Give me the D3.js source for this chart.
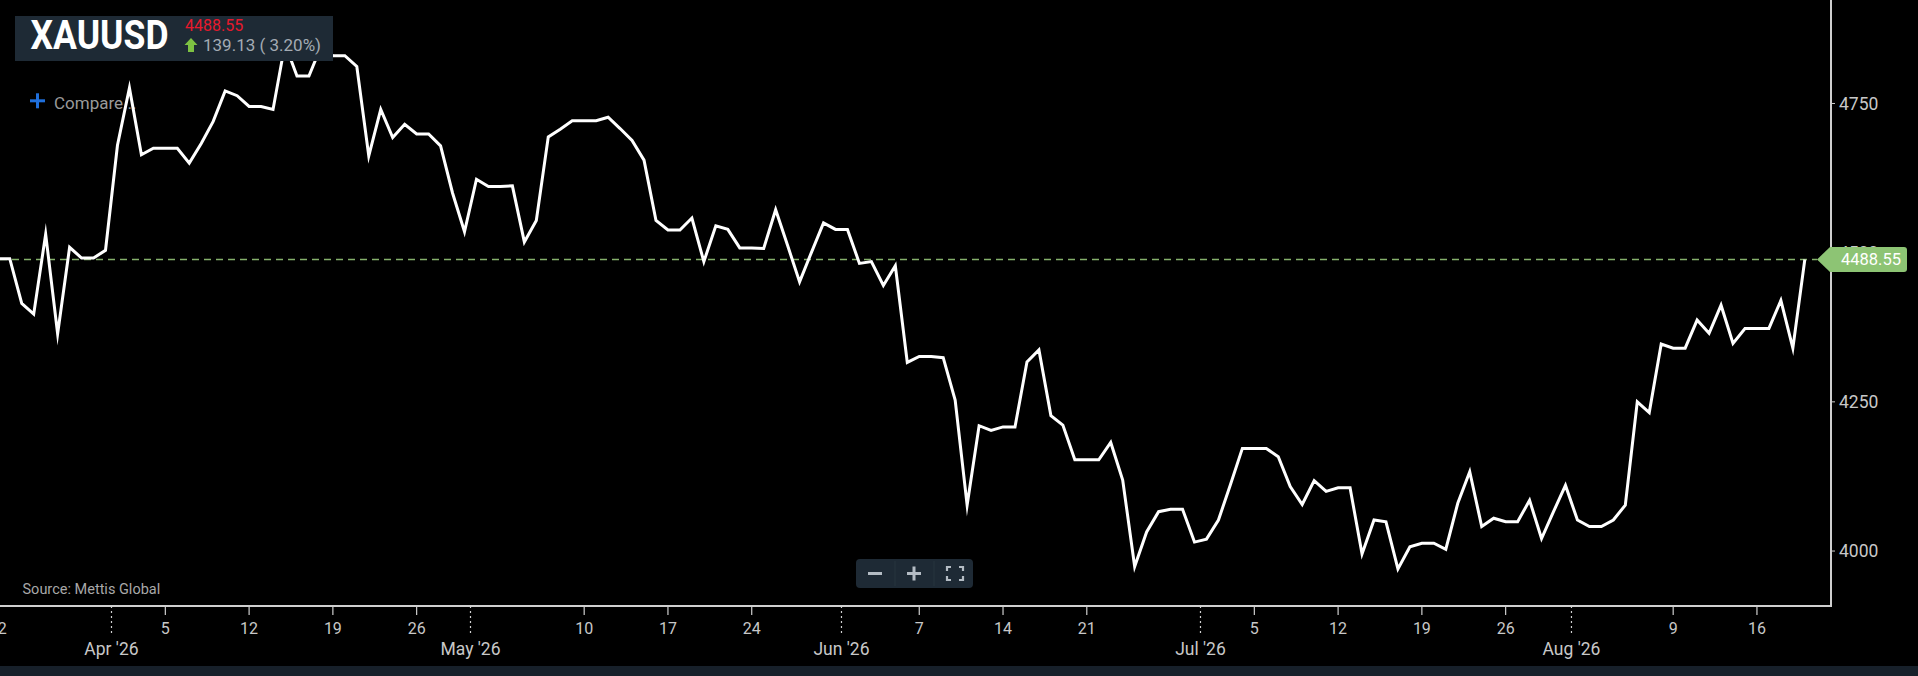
<!DOCTYPE html>
<html>
<head>
<meta charset="utf-8">
<script src="https://cdn.jsdelivr.net/npm/d3@7"></script>
<style>
  html, body { margin: 0; padding: 0; background: #000; }
  svg { display: block; font-family: Roboto, "Noto Sans", sans-serif; }
</style>
</head>
<body>
<div id="chart"></div>
<script>
// daily closes, one per day starting Sun 22 Mar 2026
var startDate = Date.UTC(2026, 2, 22, 12);
var closes = [
  4490, 4490, 4415, 4397, 4531, 4364, 4509, 4491, 4491, 4504,
  4680, 4776, 4664, 4675, 4675, 4675, 4650, 4683, 4720, 4771,
  4763, 4745, 4745, 4740, 4850, 4796, 4796, 4845, 4830, 4830,
  4812, 4662, 4740, 4693, 4715, 4699, 4699, 4679, 4600, 4535,
  4623, 4611, 4611, 4612, 4518, 4554, 4694, 4707, 4721, 4721,
  4721, 4727, 4708, 4688, 4655, 4554, 4538, 4538, 4558, 4485,
  4545, 4539, 4508, 4508, 4507, 4572, 4512, 4451, 4501, 4550,
  4539, 4539, 4482, 4485, 4445, 4478, 4316, 4326, 4326, 4324,
  4253, 4077, 4210, 4202, 4208, 4208, 4317, 4337, 4227, 4211,
  4153, 4153, 4153, 4182, 4119, 3974, 4032, 4066, 4070, 4070,
  4015, 4020, 4052, 4111, 4172, 4172, 4172, 4158, 4108, 4078,
  4118, 4100, 4106, 4106, 3995, 4052, 4049, 3970, 4007, 4013,
  4013, 4003, 4080, 4133, 4041, 4055, 4049, 4049, 4085, 4021,
  4066, 4110, 4052, 4041, 4041, 4052, 4077, 4250, 4232, 4347,
  4340, 4340, 4387, 4365, 4412, 4348, 4373, 4373, 4373, 4420,
  4340, 4488.55
];
var yTicks = [4000, 4250, 4500, 4750];
var symbol = "XAUUSD";
var lastPrice = "4488.55";
var change = "139.13 ( 3.20%)";
var source = "Source: Mettis Global";

var DAY = 864e5;
var data = closes.map(function (v, i) { return { date: new Date(startDate + i * DAY), value: v }; });

var width = 1918, height = 676;
var plotRight = 1831, plotBottom = 606;

var svg = d3.select("#chart").append("svg")
  .attr("width", width)
  .attr("height", height)
  .style("background", "#000");

// 11.967 px per day, 22 Mar noon sits just left of the edge
var x = d3.scaleUtc()
  .domain([new Date(startDate), new Date(startDate + 154 * DAY)])
  .range([-2.2, -2.2 + 154 * 11.967]);

var y = d3.scaleLinear()
  .domain([3907.9, 4923.4])
  .range([plotBottom, 0]);

// footer strip
svg.append("rect")
  .attr("x", 0).attr("y", 666)
  .attr("width", width).attr("height", 10)
  .attr("fill", "#17202a");

// --- x axis ---
var months = d3.utcMonth.range(new Date(Date.UTC(2026, 3, 1)), new Date(Date.UTC(2026, 8, 1)));
var sundays = d3.utcSunday.range(new Date(Date.UTC(2026, 2, 21)), new Date(Date.UTC(2026, 7, 22)))
  .map(function (d) { return new Date(+d + 12 * 36e5); })
  .filter(function (d) {
    // skip week labels sitting too close to a month start
    return !months.some(function (m) { return Math.abs(d - m) < 3 * DAY; });
  });

var xAxis = svg.append("g");

xAxis.append("line")
  .attr("x1", 0).attr("x2", plotRight)
  .attr("y1", plotBottom).attr("y2", plotBottom)
  .attr("stroke", "#cfcfcf")
  .attr("stroke-width", 2);

xAxis.selectAll(".wtick")
  .data(sundays).enter()
  .append("line")
  .attr("x1", function (d) { return x(d); })
  .attr("x2", function (d) { return x(d); })
  .attr("y1", plotBottom).attr("y2", plotBottom + 9)
  .attr("stroke", "#cfcfcf")
  .attr("stroke-width", 1.2);

xAxis.selectAll(".wlabel")
  .data(sundays).enter()
  .append("text")
  .attr("x", function (d) { return x(d); })
  .attr("y", 633.5)
  .attr("text-anchor", "middle")
  .attr("fill", "#c8c8c8")
  .style("font-size", "16px")
  .text(function (d) { return d3.utcFormat("%-d")(d); });

xAxis.selectAll(".mtick")
  .data(months).enter()
  .append("line")
  .attr("x1", function (d) { return x(d); })
  .attr("x2", function (d) { return x(d); })
  .attr("y1", plotBottom).attr("y2", plotBottom + 28)
  .attr("stroke", "#cfcfcf")
  .attr("stroke-width", 1.2)
  .attr("stroke-dasharray", "2,3");

xAxis.selectAll(".mlabel")
  .data(months).enter()
  .append("text")
  .attr("x", function (d) { return x(d); })
  .attr("y", 655)
  .attr("text-anchor", "middle")
  .attr("fill", "#c8c8c8")
  .style("font-size", "17.5px")
  .text(function (d) { return d3.utcFormat("%b '%y")(d); });

// --- y axis ---
var yAxis = svg.append("g");

yAxis.append("line")
  .attr("x1", plotRight).attr("x2", plotRight)
  .attr("y1", 0).attr("y2", plotBottom + 1)
  .attr("stroke", "#cfcfcf")
  .attr("stroke-width", 2);

yAxis.selectAll(".ytick")
  .data(yTicks).enter()
  .append("line")
  .attr("x1", plotRight).attr("x2", plotRight + 4)
  .attr("y1", function (d) { return y(d); })
  .attr("y2", function (d) { return y(d); })
  .attr("stroke", "#cfcfcf");

yAxis.selectAll(".ylabel")
  .data(yTicks).enter()
  .append("text")
  .attr("x", plotRight + 8)
  .attr("y", function (d) { return y(d); })
  .attr("dy", "0.36em")
  .attr("fill", "#c8c8c8")
  .style("font-size", "17.5px")
  .text(function (d) { return d; });

// "Compare..." link (line draws over it)
svg.append("rect").attr("x", 30).attr("y", 99.3).attr("width", 15).attr("height", 3).attr("fill", "#1f6fdc");
svg.append("rect").attr("x", 36).attr("y", 93.3).attr("width", 3).attr("height", 15).attr("fill", "#1f6fdc");
svg.append("text")
  .attr("x", 54).attr("y", 108.5)
  .attr("fill", "#9a9a9a")
  .style("font-size", "17px")
  .text("Compare...");

// last price dashed line
var lastY = y(closes[closes.length - 1]);
svg.append("line")
  .attr("x1", 0).attr("x2", 1817)
  .attr("y1", lastY).attr("y2", lastY)
  .attr("stroke", "#85b06b")
  .attr("stroke-width", 1.5)
  .attr("stroke-dasharray", "7,5");

// price line
var line = d3.line()
  .x(function (d) { return x(d.date); })
  .y(function (d) { return y(d.value); });

svg.append("path")
  .datum(data)
  .attr("d", line)
  .attr("fill", "none")
  .attr("stroke", "#fff")
  .attr("stroke-width", 3)
  .attr("stroke-linejoin", "miter")
  .attr("stroke-miterlimit", 10);

// price tag on the y axis
var tag = svg.append("g").attr("transform", "translate(0," + lastY + ")");
tag.append("path")
  .attr("d", "M1817,0 L1830,-12.5 L1904,-12.5 Q1907,-12.5 1907,-9.5 L1907,9.5 Q1907,12.5 1904,12.5 L1830,12.5 Z")
  .attr("fill", "#8dc474");
tag.append("text")
  .attr("x", 1871).attr("y", 0)
  .attr("dy", "0.36em")
  .attr("text-anchor", "middle")
  .attr("fill", "#fff")
  .style("font-size", "16.5px")
  .text(lastPrice);

// header box
var head = svg.append("g");
head.append("rect")
  .attr("x", 15).attr("y", 16)
  .attr("width", 318).attr("height", 45)
  .attr("fill", "#1e2a35");
head.append("text")
  .attr("x", 30.5).attr("y", 49.3)
  .attr("fill", "#fff")
  .attr("textLength", 138)
  .attr("lengthAdjust", "spacingAndGlyphs")
  .style("font-size", "40px")
  .style("font-weight", "bold")
  .text(symbol);
head.append("text")
  .attr("x", 185).attr("y", 31)
  .attr("fill", "#e8192c")
  .style("font-size", "16px")
  .text(lastPrice);
head.append("path")
  .attr("d", "M191,38 L197.5,45 L194,45 L194,52 L188,52 L188,45 L184.5,45 Z")
  .attr("fill", "#7dc142");
head.append("text")
  .attr("x", 203).attr("y", 51)
  .attr("fill", "#a3abb3")
  .style("font-size", "17px")
  .text(change);

// source credit
svg.append("text")
  .attr("x", 22.5).attr("y", 594)
  .attr("fill", "#a8a8a8")
  .style("font-size", "14.5px")
  .text(source);

// zoom buttons
var zb = svg.append("g").attr("transform", "translate(856,559)");
zb.append("rect")
  .attr("width", 117).attr("height", 29).attr("rx", 4)
  .attr("fill", "#1e2a35");
[39, 78].forEach(function (sx) {
  zb.append("line")
    .attr("x1", sx).attr("x2", sx)
    .attr("y1", 2).attr("y2", 27)
    .attr("stroke", "#27343f");
});
zb.append("rect").attr("x", 12).attr("y", 13).attr("width", 14).attr("height", 3).attr("fill", "#b4bcc4");
zb.append("rect").attr("x", 51).attr("y", 13).attr("width", 14).attr("height", 3).attr("fill", "#b4bcc4");
zb.append("rect").attr("x", 56.5).attr("y", 7.5).attr("width", 3).attr("height", 14).attr("fill", "#b4bcc4");
zb.append("path")
  .attr("d", "M91,12 L91,8 L95,8 M103,8 L107,8 L107,12 M107,17 L107,21 L103,21 M95,21 L91,21 L91,17")
  .attr("fill", "none")
  .attr("stroke", "#b4bcc4")
  .attr("stroke-width", 2.2);
</script>
</body>
</html>
